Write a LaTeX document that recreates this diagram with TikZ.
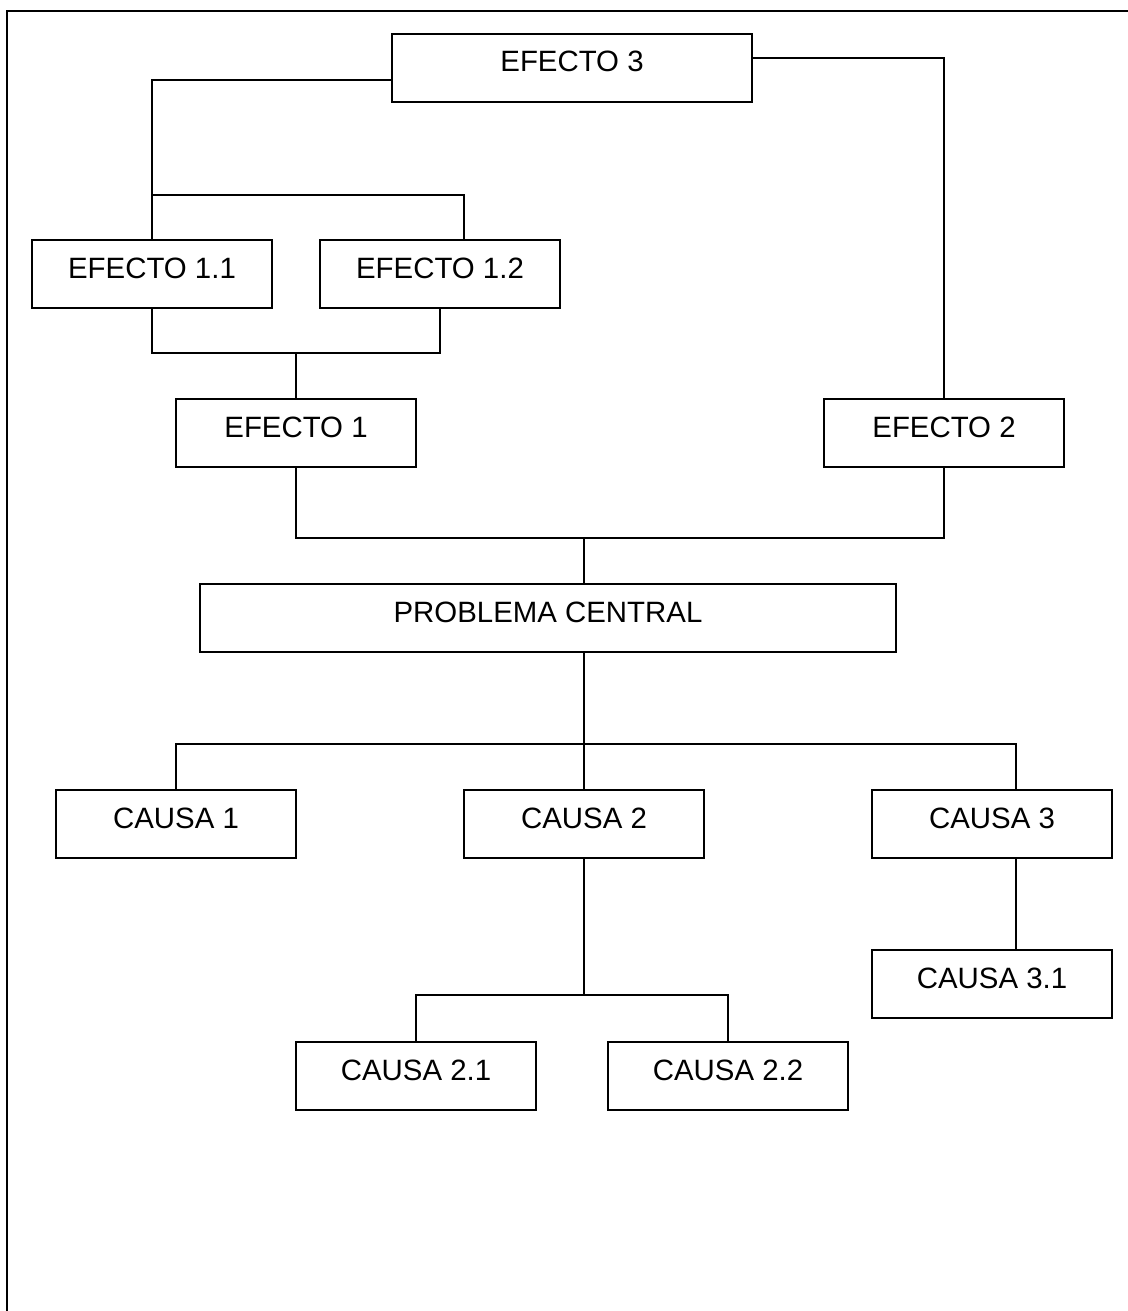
\documentclass[tikz,border=0pt]{standalone}
\usepackage{fontspec}
\setmainfont{Liberation Sans}
\usetikzlibrary{positioning, calc}

\tikzset{
  caja/.style={draw, line width=0.85pt, inner sep=0pt, minimum height=34pt,
               minimum width=120pt, text height=10.5pt, text depth=6.5pt,
               font=\fontsize{14.7}{16}\selectfont},
  linea/.style={line width=0.75pt}
}

\begin{document}
\begin{tikzpicture}[x=0.5pt, y=-0.5pt]
      \useasboundingbox (0,0) rectangle (1128,1311);
      % Marco
      \draw[line width=1.2pt] (7,1311) -- (7,11) -- (1128,11);
      % Efectos
      \node[caja, minimum width=180pt] (ef3) at (572,68) {EFECTO 3};
      \node[caja] (e11) at (152,274) {EFECTO 1.1};
      \node[caja] (e12) at (440,274) {EFECTO 1.2};
      \node[caja] (e1) at (296,433) {EFECTO 1};
      \node[caja] (e2) at (944,433) {EFECTO 2};
      % Problema
      \node[caja, minimum width=348pt] (pc) at (548,618) {PROBLEMA CENTRAL};
      % Causas
      \node[caja] (c1) at (176,824) {CAUSA 1};
      \node[caja] (c2) at (584,824) {CAUSA 2};
      \node[caja] (c3) at (992,824) {CAUSA 3};
      \node[caja] (c31) at (992,984) {CAUSA 3.1};
      \node[caja] (c21) at (416,1076) {CAUSA 2.1};
      \node[caja] (c22) at (728,1076) {CAUSA 2.2};
      % Uniones
      \coordinate (j3) at (152,195);
      \coordinate (j12) at (464,195);
      \coordinate (jb) at (296,353);
      \coordinate (jm) at (584,538);
      \coordinate (jc) at (584,744);
      \coordinate (jc3) at (1016,744);
      \coordinate (jd) at (584,995);
      % Lineas de efectos
      \draw[linea] ([yshift=-6pt]ef3.west) -| (e11.north);
      \draw[linea] (j3) -- (j12) -- (j12 |- e12.north);
      \draw[linea] ([yshift=5pt]ef3.east) -| (e2.north);
      \draw[linea] (e11.south) |- (e12.south |- jb) -- (e12.south);
      \draw[linea] (jb) -- (e1.north);
      \draw[linea] (e1.south) |- (e2.south |- jm) -- (e2.south);
      \draw[linea] (jm) -- (jm |- pc.north);
      % Lineas de causas
      \draw[linea] (jc |- pc.south) -- (jc);
      \draw[linea] (c1.north) |- (jc3) -- (jc3 |- c3.north);
      \draw[linea] (jc) -- (c2.north);
      \draw[linea] (jc3 |- c3.south) -- (jc3 |- c31.north);
      \draw[linea] (c2.south) -- (jd);
      \draw[linea] (c21.north) |- (c22.north |- jd) -- (c22.north);
    \end{tikzpicture}
\end{document}
